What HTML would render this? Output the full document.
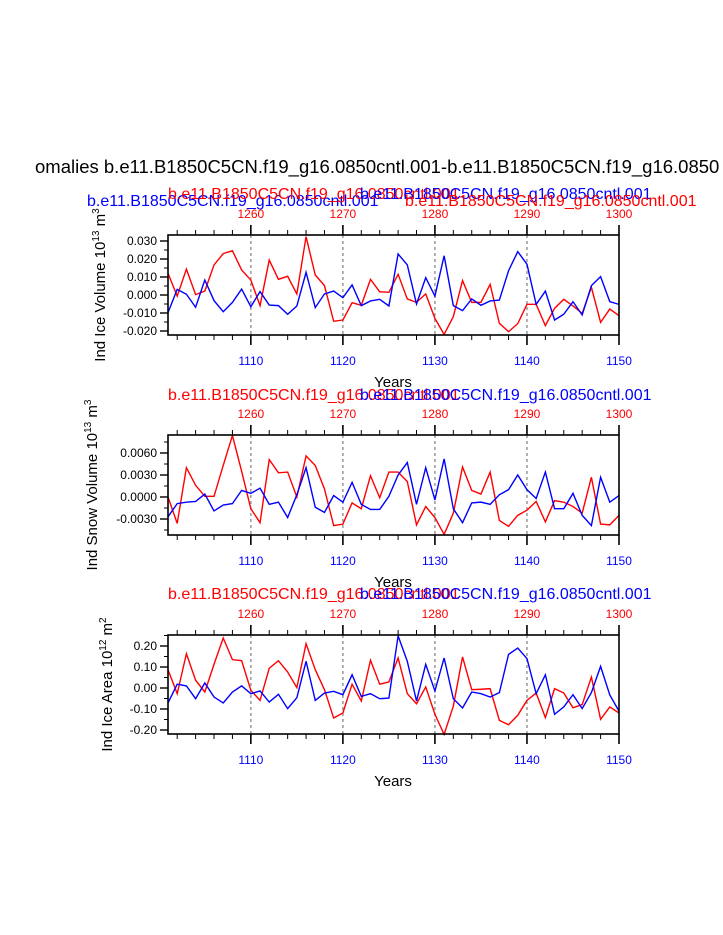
<!DOCTYPE html>
<html><head><meta charset="utf-8"><style>
html,body{margin:0;padding:0;background:#fff;}
svg{display:block;font-family:"Liberation Sans",sans-serif;}
</style></head><body>
<svg id="chart" width="723" height="935" viewBox="0 0 723 935">
<text x="35" y="173" font-size="18.5" text-anchor="start">omalies b.e11.B1850C5CN.f19_g16.0850cntl.001-b.e11.B1850C5CN.f19_g16.0850</text>
</svg>
<script>
const years = [];
for (let y = 1101; y <= 1150; y++) years.push(y);
const bottomTicks = [1110, 1120, 1130, 1140, 1150];
const topTickLabels = ["1260", "1270", "1280", "1290", "1300"];
const iceVolRed = [0.0121,-0.0006,0.0144,0.0002,0.0022,0.0167,0.0230,0.0246,0.0139,0.0083,-0.0059,0.0194,0.0087,0.0104,0.0006,0.0324,0.0111,0.0052,-0.0146,-0.0139,-0.0043,-0.0057,0.0087,0.0018,0.0015,0.0115,-0.0022,-0.0041,0.0006,-0.0130,-0.0219,-0.0120,0.0080,-0.0041,-0.0041,0.0059,-0.0157,-0.0204,-0.0159,-0.0052,-0.0052,-0.0170,-0.0074,-0.0024,-0.0061,-0.0102,0.0043,-0.0152,-0.0078,-0.0115];
const iceVolBlue = [-0.0098,0.0031,0.0004,-0.0068,0.0083,-0.0031,-0.0093,-0.0041,0.0033,-0.0065,0.0019,-0.0056,-0.0059,-0.0107,-0.0061,0.0126,-0.0070,0.0006,0.0022,-0.0015,0.0056,-0.0059,-0.0033,-0.0024,-0.0061,0.0228,0.0167,-0.0050,0.0096,-0.0006,0.0218,-0.0059,-0.0087,-0.0022,-0.0057,-0.0033,-0.0028,0.0135,0.0241,0.0171,-0.0052,0.0022,-0.0139,-0.0107,-0.0037,-0.0111,0.0052,0.0102,-0.0037,-0.0052];
const snowRed = [0.0000,-0.0036,0.0040,0.0016,0.0001,0.0001,0.0043,0.0084,0.0035,-0.0016,-0.0035,0.0051,0.0033,0.0034,0.0000,0.0056,0.0043,0.0011,-0.0039,-0.0037,-0.0008,-0.0016,0.0029,-0.0001,0.0034,0.0034,0.0021,-0.0038,-0.0013,-0.0028,-0.0051,-0.0022,0.0041,0.0009,0.0004,0.0034,-0.0032,-0.0040,-0.0025,-0.0018,-0.0006,-0.0034,-0.0005,-0.0007,-0.0013,-0.0022,0.0027,-0.0037,-0.0038,-0.0025];
const snowBlue = [-0.0027,-0.0009,-0.0007,-0.0006,0.0004,-0.0019,-0.0011,-0.0009,0.0009,0.0005,0.0012,-0.0010,-0.0007,-0.0028,0.0003,0.0040,-0.0014,-0.0021,0.0002,-0.0007,0.0020,-0.0010,-0.0017,-0.0017,0.0001,0.0030,0.0047,-0.0010,0.0040,-0.0004,0.0052,-0.0016,-0.0035,-0.0008,-0.0007,-0.0010,0.0003,0.0010,0.0030,0.0010,-0.0002,0.0034,-0.0016,-0.0016,0.0005,-0.0025,-0.0039,0.0027,-0.0007,0.0002];
const areaRed = [0.087,-0.027,0.163,0.037,-0.019,0.113,0.238,0.135,0.130,-0.011,-0.059,0.094,0.130,0.076,0.002,0.211,0.087,-0.008,-0.143,-0.119,0.018,-0.062,0.132,0.018,0.029,0.143,-0.027,-0.075,0.005,-0.125,-0.221,-0.086,0.148,-0.008,-0.006,-0.003,-0.154,-0.175,-0.130,-0.059,-0.024,-0.141,-0.003,-0.024,-0.094,-0.079,0.052,-0.149,-0.090,-0.119];
const areaBlue = [-0.071,0.018,0.010,-0.051,0.024,-0.043,-0.071,-0.019,0.010,-0.027,-0.014,-0.067,-0.030,-0.098,-0.046,0.127,-0.059,-0.024,-0.016,-0.032,0.063,-0.040,-0.027,-0.051,-0.048,0.248,0.127,-0.062,0.113,-0.014,0.143,-0.051,-0.095,-0.019,-0.027,-0.043,-0.022,0.160,0.190,0.140,-0.027,0.063,-0.125,-0.090,-0.032,-0.098,-0.022,0.103,-0.033,-0.110];
const volTicks = [0.03,0.02,0.01,0,-0.01,-0.02];
const volTickLabels = ["0.030","0.020","0.010","0.000","-0.010","-0.020"];
const snowTicks = [0.006,0.003,0,-0.003];
const snowTickLabels = ["0.0060","0.0030","0.0000","-0.0030"];
const areaTicks = [0.2,0.1,0,-0.1,-0.2];
const areaTickLabels = ["0.20","0.10","0.00","-0.10","-0.20"];

const svg = document.getElementById('chart');
const NS = 'http://www.w3.org/2000/svg';
function mk(tag, attrs, parent) {
  const e = document.createElementNS(NS, tag);
  for (const k in attrs) e.setAttribute(k, attrs[k]);
  (parent || svg).appendChild(e);
  return e;
}
const X0 = 168, X1 = 619;
function xs(yr) { return X0 + (yr - 1101) / 49 * (X1 - X0); }

function panel(o) {
  const g = mk('g', {});
  
  
  const ys = v => o.y0 - (v - o.v0) * o.scale;
  [1110,1120,1130,1140].forEach(yr => {
    const l = mk('line', {x1: xs(yr), x2: xs(yr), y1: o.top, y2: o.bot, stroke: '#999', 'stroke-width': 1.5, 'stroke-dasharray': '3,3'}, g);
    
    
  });
  [[o.red, '#ff0000', 'red-series'], [o.blue, '#0000ff', 'blue-series']].forEach(s => {
    const p = mk('polyline', {points: s[0].map((v, i) => xs(years[i]) + ',' + ys(v)).join(' '), fill: 'none', stroke: s[1], 'stroke-width': 1.4}, g);
    
    
  });
  const box = mk('rect', {x: X0, y: o.top, width: X1 - X0, height: o.bot - o.top, fill: 'none', stroke: '#000', 'stroke-width': 1.6}, g);
  
  
  for (let yr = 1101; yr <= 1150; yr++) {
    const major = yr % 10 === 0;
    const len = major ? 10 : 5;
    if (yr % 2 === 0 || major) {
      mk('line', {x1: xs(yr), x2: xs(yr), y1: o.bot, y2: o.bot + len, stroke: '#000', 'stroke-width': major ? 1.6 : 1}, g);
      mk('line', {x1: xs(yr), x2: xs(yr), y1: o.top, y2: o.top - len, stroke: '#000', 'stroke-width': major ? 1.6 : 1}, g);
    }
  }
  bottomTicks.forEach((yr, i) => {
    const t = mk('text', {x: xs(yr), y: o.bot + 30, 'font-size': 12, fill: '#0000ff', 'text-anchor': 'middle'}, g);
    t.textContent = yr;
    
    
    const u = mk('text', {x: xs(yr), y: o.top - 17, 'font-size': 12, fill: '#ff0000', 'text-anchor': 'middle'}, g);
    u.textContent = topTickLabels[i];
    
    
  });
  o.ticks.forEach((v, i) => {
    mk('line', {x1: X0, x2: X0 - 8, y1: ys(v), y2: ys(v), stroke: '#000', 'stroke-width': 1.4}, g);
    const t = mk('text', {x: X0 - 11, y: ys(v) + 4, 'font-size': 12, 'text-anchor': 'end'}, g);
    t.textContent = o.labels[i];
    
    
  });
  for (let k = 0; k < o.ticks.length; k++) {
    const v = o.ticks[k] + o.minor;
    if (ys(v) > o.top) mk('line', {x1: X0, x2: X0 - 4, y1: ys(v), y2: ys(v), stroke: '#000'}, g);
    const w = o.ticks[k] - o.minor;
    if (k === o.ticks.length - 1 && ys(w) < o.bot) mk('line', {x1: X0, x2: X0 - 4, y1: ys(w), y2: ys(w), stroke: '#000'}, g);
  }
  const yt = mk('text', {x: 0, y: 0, 'font-size': 15, 'text-anchor': 'middle', transform: 'translate(' + o.titleX + ',' + ((o.top + o.bot) / 2) + ') rotate(-90)'}, g);
  yt.innerHTML = o.title + ' 10<tspan dy="-6" font-size="10">' + o.exp1 + '</tspan><tspan dy="6"> m</tspan><tspan dy="-6" font-size="10">' + o.exp2 + '</tspan>';
  
  
  const xt = mk('text', {x: 393, y: o.bot + 52, 'font-size': 15, 'text-anchor': 'middle'}, g);
  xt.textContent = 'Years';
  
  
  o.subs.forEach(s => {
    const t = mk('text', {x: s[0], y: s[1], 'font-size': 16, fill: s[2]}, g);
    t.textContent = s[3];
    
    
  });
}
const C = 'b.e11.B1850C5CN.f19_g16.0850cntl.001';
panel({name: 'ice-volume-panel', top: 235, bot: 335, y0: 295, v0: 0, scale: 1800, red: iceVolRed, blue: iceVolBlue, ticks: volTicks, labels: volTickLabels, minor: 0.005, title: 'Ind Ice Volume', exp1: '13', exp2: '3', titleX: 105,
  subs: [[87, 206, '#0000ff', C], [168, 199, '#ff0000', C], [360, 199, '#0000ff', C], [405, 206, '#ff0000', C]]});
panel({name: 'snow-volume-panel', top: 435, bot: 535, y0: 497, v0: 0, scale: 22 / 0.003, red: snowRed, blue: snowBlue, ticks: snowTicks, labels: snowTickLabels, minor: 0.0015, title: 'Ind Snow Volume', exp1: '13', exp2: '3', titleX: 97,
  subs: [[168, 400, '#ff0000', C], [360, 400, '#0000ff', C]]});
panel({name: 'ice-area-panel', top: 635, bot: 734, y0: 688, v0: 0, scale: 210, red: areaRed, blue: areaBlue, ticks: areaTicks, labels: areaTickLabels, minor: 0.05, title: 'Ind Ice Area', exp1: '12', exp2: '2', titleX: 112,
  subs: [[168, 599, '#ff0000', C], [360, 599, '#0000ff', C]]});
</script>
</body></html>
